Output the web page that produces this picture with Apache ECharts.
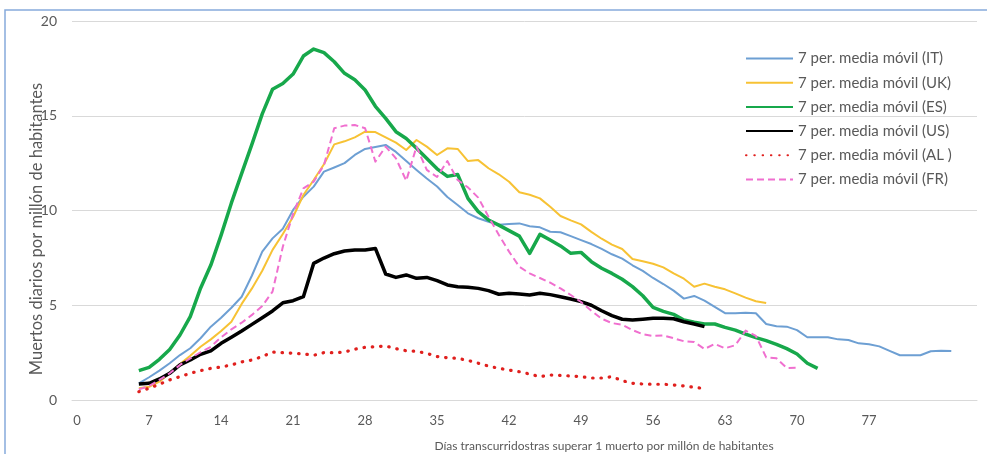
<!DOCTYPE html>
<html>
<head>
<meta charset="utf-8">
<script src="https://cdn.jsdelivr.net/npm/echarts@6/dist/echarts.min.js"></script>
<style>
html,body{margin:0;padding:0;background:#fff;}
#chart{width:991px;height:454px;}
</style>
</head>
<body>
<div id="chart"></div>
<script>
// Days since exceeding 1 death per million (category axis 0..87)
const days = Array.from({length: 88}, (_, i) => String(i));
const tickLabels = ['0','7','14','21','28','35','42','49','56','63','70','77'];
const startDay = 6;

const IT = [0.88,1.2,1.55,1.94,2.37,2.73,3.26,3.87,4.34,4.87,5.45,6.57,7.83,8.53,9.04,
  10.03,10.73,11.26,12.05,12.27,12.5,12.93,13.25,13.35,13.46,
  13.09,12.61,12.14,11.69,11.27,10.71,10.29,
  9.85,9.59,9.41,9.25,9.29,9.32,9.17,9.11,8.88,8.85,8.65,8.44,8.23,7.97,7.69,
  7.46,7.11,6.81,6.44,6.12,5.77,5.35,5.49,5.24,4.91,4.58,4.58,4.61,4.58,4.01,3.89,
  3.87,3.69,3.31,3.31,3.31,3.2,3.17,2.99,2.94,2.83,2.59,2.36,2.36,2.36,2.57,2.6,2.59];

const UK = [0.62,0.7,0.97,1.41,1.9,2.34,2.81,3.2,3.64,4.13,5.07,5.89,6.82,7.92,8.76,
  9.67,10.82,11.61,12.44,13.49,13.65,13.86,14.16,14.14,13.86,
  13.58,13.19,13.72,13.37,12.93,13.28,13.25,
  12.61,12.66,12.23,11.91,11.52,10.96,10.83,10.64,10.2,9.71,9.48,9.27,8.87,8.51,8.2,
  7.97,7.44,7.32,7.19,7.0,6.68,6.4,5.98,6.14,5.98,5.84,5.63,5.4,5.21,5.12];

const ES = [1.55,1.72,2.15,2.67,3.43,4.4,5.9,7.12,8.7,10.4,11.96,13.5,15.1,16.4,16.7,
  17.2,18.15,18.52,18.33,17.85,17.24,16.9,16.36,15.5,14.86,
  14.16,13.8,13.28,12.75,12.2,11.8,11.9,
  10.64,9.94,9.5,9.23,8.94,8.65,7.74,8.74,8.44,8.13,7.74,7.79,7.3,6.95,6.68,
  6.37,5.98,5.5,4.89,4.68,4.52,4.22,4.1,4.01,4.01,3.83,3.69,3.48,3.29,3.13,2.94,
  2.71,2.43,1.94,1.67];

const US = [0.84,0.88,1.11,1.41,1.85,2.11,2.41,2.59,2.99,3.31,3.64,3.99,4.34,4.7,5.13,
  5.24,5.45,7.21,7.49,7.72,7.86,7.92,7.92,8.0,
  6.65,6.47,6.6,6.42,6.47,6.3,6.07,5.98,
  5.95,5.89,5.77,5.58,5.63,5.59,5.54,5.63,5.56,5.45,5.33,5.19,5.0,4.71,4.45,
  4.26,4.22,4.26,4.31,4.31,4.29,4.13,4.01,3.87];

const AL = [0.44,0.62,0.83,1.06,1.23,1.41,1.55,1.67,1.74,1.85,2.01,2.11,2.29,2.53,2.5,
  2.46,2.43,2.36,2.5,2.5,2.53,2.68,2.78,2.81,2.85,
  2.71,2.6,2.57,2.46,2.29,2.23,2.2,
  2.09,1.94,1.79,1.67,1.58,1.49,1.37,1.23,1.32,1.3,1.27,1.23,1.16,1.16,1.23,
  1.02,0.88,0.84,0.83,0.83,0.79,0.74,0.67,0.6];

const FR = [0.56,0.74,1.06,1.41,1.85,2.2,2.52,2.81,3.31,3.73,4.08,4.49,4.96,5.72,8.09,
  9.82,11.17,11.52,12.4,14.34,14.48,14.51,14.34,12.58,13.37,
  12.75,11.57,13.37,12.14,11.77,12.61,11.61,
  11.22,10.68,9.67,8.72,7.83,7.03,6.68,6.44,6.19,5.89,5.54,5.17,4.71,4.29,4.06,
  3.97,3.69,3.47,3.38,3.41,3.26,3.1,3.06,2.69,2.96,2.73,2.89,3.66,3.38,2.25,2.2,1.69,1.7];

const names = ['7 per. media móvil (IT)','7 per. media móvil (UK)','7 per. media móvil (ES)',
  '7 per. media móvil (US)','7 per. media móvil (AL )','7 per. media móvil (FR)'];

function pad(arr){ return Array(startDay).fill(null).concat(arr); }

const FONT = 'Lato, "Open Sans", sans-serif';
const chart = echarts.init(document.getElementById('chart'), null, {renderer:'canvas'});

function line(name, data, color, width, type, cap){
  return {
    name, type:'line', data: pad(data), symbol:'none', showSymbol:false,
    connectNulls:false, animation:false,
    lineStyle:{color, width, type: type||'solid', cap: cap||'butt', join:'round'},
    itemStyle:{color}
  };
}

chart.setOption({
  animation:false,
  backgroundColor:'#ffffff',
  grid:{left:72, right:14, top:21, bottom:54, containLabel:false},
  legend:{
    orient:'vertical', left:740, top:46,
    itemWidth:47, itemHeight:14, itemGap:9.2,
    itemStyle:{opacity:0},
    textStyle:{color:'#595959', fontSize:15, lineHeight:14, fontFamily:FONT},
    data:names
  },
  xAxis:{
    type:'category', data:days, boundaryGap:true,
    axisLine:{show:true, lineStyle:{color:'#d9d9d9', width:1}},
    axisTick:{show:false},
    splitLine:{show:false},
    axisLabel:{
      color:'#595959', fontSize:13, fontFamily:FONT, margin:14,
      interval:function(index, value){ return tickLabels.indexOf(value) >= 0; }
    }
  },
  yAxis:{
    type:'value', min:0, max:20, interval:5,
    axisLine:{show:false}, axisTick:{show:false},
    splitLine:{lineStyle:{color:'#d9d9d9', width:1}},
    axisLabel:{color:'#595959', fontSize:14, fontFamily:FONT, margin:15}
  },
  graphic:[
    {type:'polyline', silent:true, shape:{points:[[5,454],[5,10],[987,10]]},
     style:{stroke:'#86abdb', lineWidth:1.5, fill:null}},
    {type:'text', silent:true, x:604, y:446,
     style:{text:'Días transcurridostras superar 1 muerto por millón de habitantes',
            fill:'#595959', font:'12px ' + FONT, textAlign:'center', textVerticalAlign:'middle'}},
    {type:'text', silent:true, x:37, y:229, rotation:Math.PI/2,
     style:{text:'Muertos diarios por millón de habitantes',
            fill:'#595959', font:'16.5px ' + FONT, textAlign:'center', textVerticalAlign:'middle'}}
  ],
  series:[
    line(names[0], IT, '#6d9fd3', 2),
    line(names[1], UK, '#f7c234', 2),
    line(names[2], ES, '#17a84b', 3.5),
    line(names[3], US, '#000000', 3.5),
    line(names[4], AL, '#e0201e', 3.2, [0.5, 7.8], 'round'),
    line(names[5], FR, '#f06fcf', 2, [7, 4])
  ]
});
</script>
</body>
</html>
